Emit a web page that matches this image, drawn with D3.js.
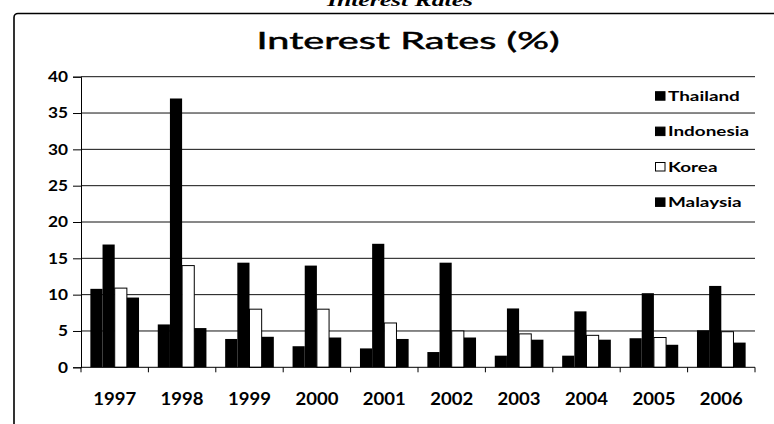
<!DOCTYPE html>
<html>
<head>
<meta charset="utf-8">
<script src="https://cdn.jsdelivr.net/npm/d3@7"></script>
<style>
  html, body { margin: 0; padding: 0; background: #fff; }
  svg { display: block; }
</style>
</head>
<body>
<svg id="chart" width="774" height="424"></svg>
<script>
// Annual interest rates (%) by country
const years = ["1997", "1998", "1999", "2000", "2001", "2002", "2003", "2004", "2005", "2006"];
const seriesNames = ["Thailand", "Indonesia", "Korea", "Malaysia"];
const thailand  = [10.8, 5.9, 3.9, 2.9, 2.6, 2.1, 1.6, 1.6, 4.0, 5.1];
const indonesia = [16.9, 37.0, 14.4, 14.0, 17.0, 14.4, 8.1, 7.7, 10.2, 11.2];
const korea     = [10.9, 14.0, 8.0, 8.0, 6.1, 5.0, 4.6, 4.4, 4.1, 4.9];
const malaysia  = [9.6, 5.4, 4.2, 4.1, 3.9, 4.1, 3.8, 3.8, 3.1, 3.4];
const yTicks = [0, 5, 10, 15, 20, 25, 30, 35, 40];
const headerText = "Interest Rates";
const titleText = "Interest Rates (%)";

const seriesValues = [thailand, indonesia, korea, malaysia];
const seriesFill = ["#000", "#000", "#fff", "#000"];

const FONT = "Lato, 'Open Sans', sans-serif";
const svg = d3.select("#chart");

// outer chart frame
svg.append("rect")
  .attr("x", 14).attr("y", 13.5)
  .attr("width", 790).attr("height", 440)
  .attr("rx", 4)
  .attr("fill", "#fff")
  .attr("stroke", "#000").attr("stroke-width", 1.6);

// page heading (sits above the frame, clipped by the page top)
svg.append("text")
  .attr("x", 400).attr("y", 6)
  .attr("text-anchor", "middle")
  .attr("font-family", "'Liberation Serif', serif")
  .attr("font-style", "italic").attr("font-weight", "bold")
  .attr("font-size", 17)
  .attr("textLength", 146).attr("lengthAdjust", "spacingAndGlyphs")
  .text(headerText);

// chart title
svg.append("text")
  .attr("x", 408).attr("y", 48.5)
  .attr("text-anchor", "middle")
  .attr("font-family", FONT).attr("font-weight", "normal")
  .attr("font-size", 24)
  .attr("stroke", "#000").attr("stroke-width", 0.5)
  .attr("textLength", 303).attr("lengthAdjust", "spacingAndGlyphs")
  .text(titleText);

// scales
const x = d3.scaleBand().domain(years).range([81, 755]).paddingInner(0).paddingOuter(0);
const xs = d3.scaleBand().domain(seriesNames).range([0, x.bandwidth()])
  .paddingInner(0).paddingOuter(0.77);
const y = d3.scaleLinear().domain([0, 40]).range([367.3, 76.7]);

// horizontally widened text helper
function wideText(sel, px, py, str, size, stretch, anchor) {
  return sel.append("text")
    .attr("transform", `translate(${px},${py}) scale(${stretch},1)`)
    .attr("text-anchor", anchor)
    .attr("font-family", FONT).attr("font-weight", "bold")
    .attr("font-size", size)
    .attr("fill", "#000")
    .text(str);
}

// gridlines
svg.append("g")
  .selectAll("line")
  .data(yTicks.filter(v => v > 0))
  .join("line")
  .attr("x1", 81).attr("x2", 755)
  .attr("y1", d => y(d)).attr("y2", d => y(d))
  .attr("stroke", "#111").attr("stroke-width", 1);

// y axis
const yAxisG = svg.append("g")
  .attr("transform", "translate(81,0)")
  .call(d3.axisLeft(y).tickValues(yTicks).tickSize(8).tickFormat(d3.format("d")));
yAxisG.select(".domain").attr("stroke", "#000").attr("stroke-width", 1);
yAxisG.selectAll(".tick line").attr("stroke", "#000");
const yStretch = 1.15;
yAxisG.selectAll(".tick text")
  .attr("x", -13 / yStretch)
  .attr("transform", `scale(${yStretch},1)`)
  .attr("font-family", FONT).attr("font-weight", "bold")
  .attr("font-size", 15).attr("fill", "#000");

// bars
const groups = svg.append("g")
  .selectAll("g")
  .data(years)
  .join("g")
  .attr("transform", d => `translate(${x(d)},0)`);

groups.selectAll("rect")
  .data((yr, i) => seriesNames.map((s, k) => ({ s, k, v: seriesValues[k][i] })))
  .join("rect")
  .attr("x", d => xs(d.s))
  .attr("width", xs.bandwidth())
  .attr("y", d => y(d.v))
  .attr("height", d => y(0) - y(d.v))
  .attr("fill", d => seriesFill[d.k])
  .attr("stroke", d => d.s === "Korea" ? "#000" : "none")
  .attr("stroke-width", 1);

// x axis baseline and category boundary ticks
svg.append("line")
  .attr("x1", 81).attr("x2", 755)
  .attr("y1", y(0)).attr("y2", y(0))
  .attr("stroke", "#000").attr("stroke-width", 1);
const bounds = years.map(d => x(d)).concat([x.range()[1]]);
svg.append("g")
  .selectAll("line")
  .data(bounds)
  .join("line")
  .attr("x1", d => d).attr("x2", d => d)
  .attr("y1", y(0)).attr("y2", y(0) + 5)
  .attr("stroke", "#000");

// year labels
const xLab = svg.append("g");
years.forEach(yr => wideText(xLab, x(yr) + x.bandwidth() / 2, 405, yr, 17, 1.09, "middle"));

// legend
const legend = svg.append("g");
seriesNames.forEach((s, k) => {
  const by = 100.7 + k * 35.4;
  legend.append("rect")
    .attr("x", 655.5).attr("y", by - 9)
    .attr("width", 9.5).attr("height", 8.5)
    .attr("fill", seriesFill[k])
    .attr("stroke", "#000").attr("stroke-width", 1);
  wideText(legend, 668, by, s, 13.5, 1.4, "start");
});
</script>
</body>
</html>
